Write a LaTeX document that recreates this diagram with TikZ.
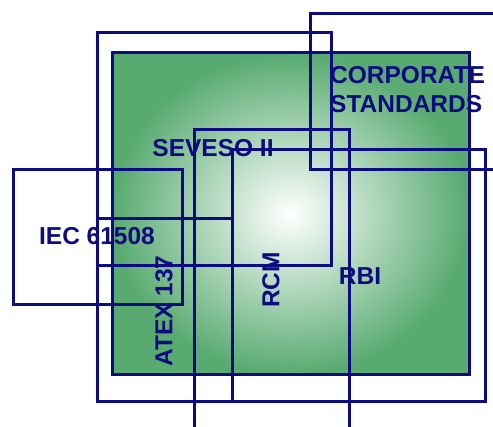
\documentclass[tikz,border=0pt]{standalone}
\usepackage{fontspec}
\setmainfont{Liberation Sans}
\usepackage{tikz}
\usetikzlibrary{positioning}
\definecolor{navyline}{RGB}{12,12,128}
\definecolor{areagreen}{RGB}{88,170,112}

\begin{document}
\begin{tikzpicture}[x=1pt,y=-1pt,
    frame/.style={draw=navyline,line width=3pt},
    label/.style={text=navyline,font=\bfseries\fontsize{24.5}{29}\selectfont,inner sep=0pt}]
  \useasboundingbox (0,0) rectangle (493,427);
  \clip (0,0) rectangle (493,427);
  % green area
  \shade[inner color=white,outer color=areagreen] (112,53) rectangle (469,375);
  \draw[frame] (112,53) rectangle (469,375);
  % labels
  \node[label,anchor=west,align=left] (corp) at (330,90) {CORPORATE\\STANDARDS};
  \node[label] (seveso) at (213,148) {SEVESO II};
  \node[label] (iec) at (97,236) {IEC 61508};
  \node[label,rotate=90] (atex) at (164,311) {ATEX 137};
  \node[label,rotate=90] (rcm) at (271,280) {RCM};
  \node[label] (rbi) at (360,276) {RBI};
  % frames
  \draw[frame] (97,33) rectangle (331,266);   % seveso
  \draw[frame] (310,14) rectangle (510,170);  % corporate
  \draw[frame] (13,170) rectangle (182,305);  % iec
  \draw[frame] (97,219) rectangle (232,402);  % atex
  \draw[frame] (194,130) rectangle (349,440); % rcm
  \draw[frame] (232,150) rectangle (485,402); % rbi
\end{tikzpicture}
\end{document}
